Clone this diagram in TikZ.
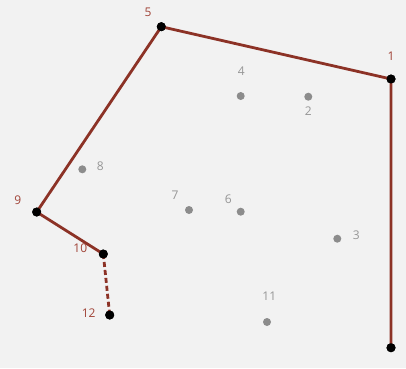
\documentclass[tikz,border=0pt]{standalone}
\usepackage{fontspec}
\setmainfont{Open Sans}
\usepackage{tikz}
\usetikzlibrary{positioning}
\definecolor{pathred}{RGB}{140,50,38}
\definecolor{labred}{RGB}{160,66,54}
\definecolor{dotgray}{RGB}{140,140,140}
\definecolor{labgray}{RGB}{150,150,150}
\definecolor{bggray}{RGB}{242,242,242}

\tikzset{
  stop/.style={circle, fill=black, inner sep=0pt, minimum size=9pt},
  site/.style={circle, fill=dotgray, inner sep=0pt, minimum size=8pt},
  redlab/.style={font=\fontsize{12}{12}\selectfont, text=labred, inner sep=0pt},
  graylab/.style={font=\fontsize{12}{12}\selectfont, text=labgray, inner sep=0pt},
  route/.style={draw=pathred, line width=2.8pt, line join=round}
}

\begin{document}
\begin{tikzpicture}[x=1pt, y=-1pt]
  % background
  \fill[bggray] (0,0) rectangle (406,368);
  \useasboundingbox (0,0) rectangle (406,368);

  % route
  \node[stop] (S1) at (391,79) {};
  \node[stop] (S5) at (161.3,26.7) {};
  \node[stop] (S9) at (36.7,212) {};
  \node[stop] (S10) at (103.3,254) {};
  \node[stop] (S12) at (109.7,315) {};
  \node[stop] (S0) at (391,347.7) {};

  \draw[route] (S0.center) -- (S1.center) -- (S5.center) -- (S9.center) -- (S10.center);
  \draw[route, dash pattern=on 5pt off 3pt] (S10.center) -- (S12.center);

  % redraw stops on top
  \foreach \k in {0,1,5,9,10,12}
    \fill[black] (S\k) circle (4.5pt);

  \node[redlab] (L1) at (391,56) {1};
  \node[redlab] (L5) at (148,12) {5};
  \node[redlab] (L9) at (17.7,200.7) {9};
  \node[redlab] (L10) at (80.3,248.3) {10};
  \node[redlab] (L12) at (88.7,312.7) {12};

  % other sites
  \foreach \k/\px/\py/\lx/\ly in {
    2/308.3/96.7/308.3/110.7,
    3/337.3/238.7/356.3/235.7,
    4/240.7/96/241.3/70.7,
    6/240.7/211.7/228.3/199,
    7/189/210/175/195.7,
    8/82.3/169.3/100.3/166.7,
    11/267/322/269.3/296.7
  }{
    \node[site] (P\k) at (\px,\py) {};
    \node[graylab] (Q\k) at (\lx,\ly) {\k};
  }
\end{tikzpicture}
\end{document}
